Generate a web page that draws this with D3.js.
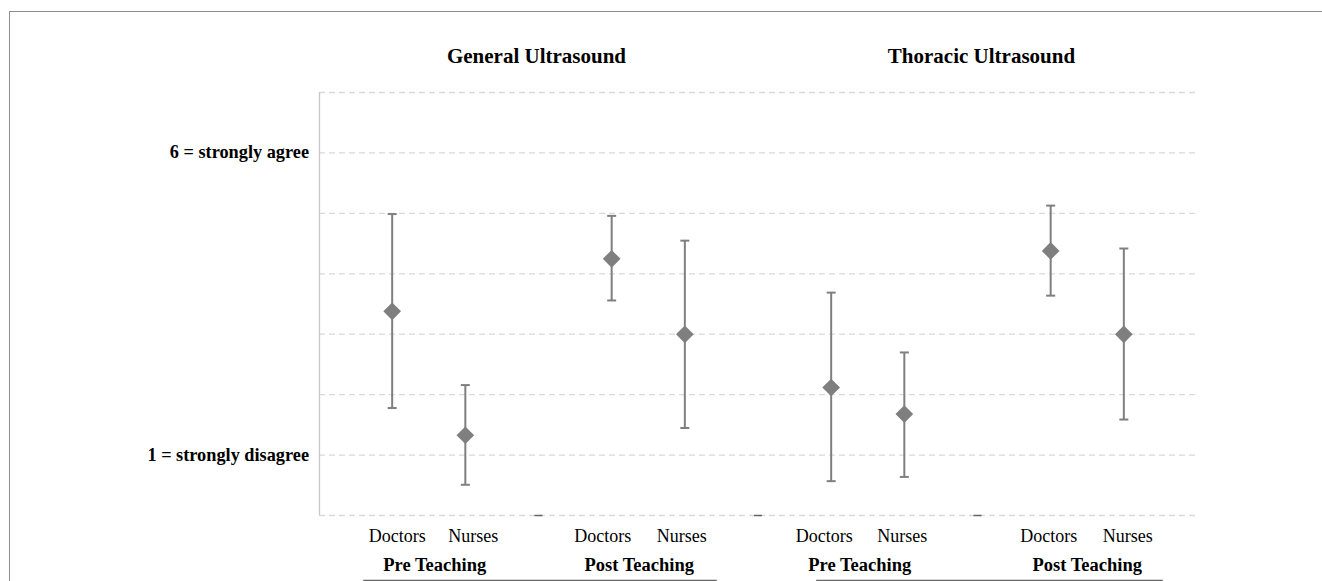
<!DOCTYPE html>
<html>
<head>
<meta charset="utf-8">
<script src="https://cdn.jsdelivr.net/npm/d3@7"></script>
<style>
  body { margin: 0; background: #fff; }
  text { font-family: "Liberation Serif", "Times New Roman", serif; fill: #000; }
</style>
</head>
<body>
<svg id="chart" width="1322" height="581"></svg>
<script>
// categories (blank slots are the gaps between groups)
var categories = ["GD_pre", "GN_pre", "gap1", "GD_post", "GN_post", "gap2", "TD_pre", "TN_pre", "gap3", "TD_post", "TN_post"]
var roles = ["Doctors", "Nurses", "", "Doctors", "Nurses", "", "Doctors", "Nurses", "", "Doctors", "Nurses"]
var means = [3.37, 1.32, null, 4.24, 2.99, null, 2.11, 1.67, null, 4.37, 2.99]
var upper = [4.98, 2.15, null, 4.95, 4.54, null, 3.68, 2.69, null, 5.12, 4.41]
var lower = [1.77, 0.50, null, 3.55, 1.44, null, 0.56, 0.63, null, 3.63, 1.58]
var gridValues = [0, 1, 2, 3, 4, 5, 6, 7]
var yLabels = [[6, "6 = strongly agree"], [1, "1 = strongly disagree"]]
var titles = [["General Ultrasound", "GD_pre", "GN_post"], ["Thoracic Ultrasound", "TD_pre", "TN_post"]]
var phases = [["Pre Teaching", "GD_pre", "GN_pre"], ["Post Teaching", "GD_post", "GN_post"],
              ["Pre Teaching", "TD_pre", "TN_pre"], ["Post Teaching", "TD_post", "TN_post"]]

// small layout nudges so labels sit where the original put them
var roleNudge = [5, 8, 0, -9, -3, 0, -7, -2, 0, -2, 4]
var phaseNudge = [6, -9, -8, 0]
var titleNudge = [-2, 4]

var svg = d3.select("#chart")
var plotLeft = 319, plotRight = 1197, plotTop = 92, plotBottom = 515

// frame around the figure
svg.append("rect")
  .attr("x", 9.5).attr("y", 11.5)
  .attr("width", 1330).attr("height", 600)
  .style("fill", "none").style("stroke", "#8c8c8c").style("stroke-width", 1)

var x = d3.scalePoint().domain(categories).range([plotLeft, plotRight]).padding(1)
var y = d3.scaleLinear().domain([0, 7]).range([plotBottom, plotTop])

// gridlines
svg.append("g").selectAll("line")
  .data(gridValues)
  .enter().append("line")
  .attr("x1", plotLeft).attr("x2", plotRight)
  .attr("y1", function (d) { return y(d) + 0.5 })
  .attr("y2", function (d) { return y(d) + 0.5 })
  .style("stroke", "#d9d9d9").style("stroke-width", 1.3)
  .style("stroke-dasharray", "6,4")

// y axis line
svg.append("line")
  .attr("x1", plotLeft + 0.5).attr("x2", plotLeft + 0.5)
  .attr("y1", y(7)).attr("y2", y(0))
  .style("stroke", "#c8c8c8").style("stroke-width", 1.3)

// y labels
svg.append("g").selectAll("text")
  .data(yLabels)
  .enter().append("text")
  .attr("x", plotLeft - 10)
  .attr("y", function (d) { return y(d[0]) + 6 })
  .attr("text-anchor", "end")
  .style("font-weight", "bold").style("font-size", "18.3px")
  .text(function (d) { return d[1] })

// titles
svg.append("g").selectAll("text")
  .data(titles)
  .enter().append("text")
  .attr("x", function (d, i) { return (x(d[1]) + x(d[2])) / 2 + titleNudge[i] })
  .attr("y", 63)
  .attr("text-anchor", "middle")
  .style("font-weight", "bold").style("font-size", "21px")
  .text(function (d) { return d[0] })

var color = "#7f7f7f"
var pts = categories.map(function (c, i) { return { c: c, m: means[i], hi: upper[i], lo: lower[i] } })

// tiny marks at the empty slots
svg.append("g").selectAll("line")
  .data(pts.filter(function (d) { return d.m == null }))
  .enter().append("line")
  .attr("x1", function (d) { return x(d.c) - 4 })
  .attr("x2", function (d) { return x(d.c) + 4 })
  .attr("y1", y(0) + 0.5).attr("y2", y(0) + 0.5)
  .style("stroke", "#666").style("stroke-width", 1.5)

var data = pts.filter(function (d) { return d.m != null })
var bars = svg.append("g")

bars.selectAll(".whisker")
  .data(data)
  .enter().append("line")
  .attr("class", "whisker")
  .attr("x1", function (d) { return x(d.c) }).attr("x2", function (d) { return x(d.c) })
  .attr("y1", function (d) { return y(d.hi) }).attr("y2", function (d) { return y(d.lo) })
  .style("stroke", color).style("stroke-width", 2)

bars.selectAll(".capTop")
  .data(data)
  .enter().append("line")
  .attr("class", "capTop")
  .attr("x1", function (d) { return x(d.c) - 4.5 }).attr("x2", function (d) { return x(d.c) + 4.5 })
  .attr("y1", function (d) { return y(d.hi) }).attr("y2", function (d) { return y(d.hi) })
  .style("stroke", color).style("stroke-width", 2)

bars.selectAll(".capBot")
  .data(data)
  .enter().append("line")
  .attr("class", "capBot")
  .attr("x1", function (d) { return x(d.c) - 4.5 }).attr("x2", function (d) { return x(d.c) + 4.5 })
  .attr("y1", function (d) { return y(d.lo) }).attr("y2", function (d) { return y(d.lo) })
  .style("stroke", color).style("stroke-width", 2)

bars.selectAll("path")
  .data(data)
  .enter().append("path")
  .attr("d", d3.symbol().type(d3.symbolDiamond2).size(200))
  .attr("transform", function (d) { return "translate(" + x(d.c) + "," + y(d.m) + ")" })
  .style("fill", color)

// category labels
svg.append("g").selectAll("text")
  .data(categories.map(function (c, i) { return [c, roles[i], roleNudge[i]] }).filter(function (d) { return d[1] != "" }))
  .enter().append("text")
  .attr("x", function (d) { return x(d[0]) + d[2] })
  .attr("y", 542)
  .attr("text-anchor", "middle")
  .style("font-size", "18px")
  .text(function (d) { return d[1] })

// phase labels
svg.append("g").selectAll("text")
  .data(phases)
  .enter().append("text")
  .attr("x", function (d, i) { return (x(d[1]) + x(d[2])) / 2 + phaseNudge[i] })
  .attr("y", 571)
  .attr("text-anchor", "middle")
  .style("font-weight", "bold").style("font-size", "18.5px")
  .text(function (d) { return d[0] })

// underline beneath each pair of phases
svg.append("g").selectAll("line")
  .data(titles)
  .enter().append("line")
  .attr("x1", function (d) { return x(d[1]) - 29 - (d[1] == "TD_pre" ? -14 : 0) })
  .attr("x2", function (d) { return x(d[2]) + 32 + (d[2] == "TN_post" ? 7 : 0) })
  .attr("y1", 580.5).attr("y2", 580.5)
  .style("stroke", "#666").style("stroke-width", 1.3)
</script>
</body>
</html>
